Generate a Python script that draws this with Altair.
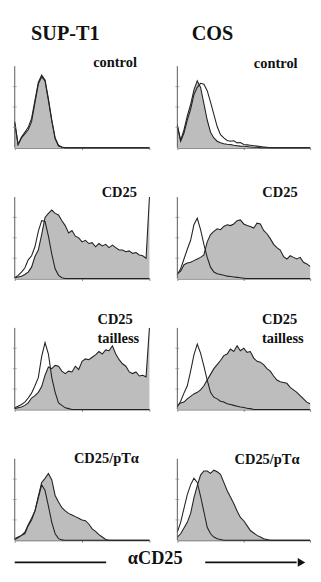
import altair as alt
import pandas as pd

# channel grid (percent of the log-fluorescence axis)
X = [0, 2.5, 5, 7.5, 10, 12.5, 15, 17.5, 20, 22.5, 25, 27.5, 30, 32.5, 35, 37.5, 40,
     42.5, 45, 47.5, 50, 52.5, 55, 57.5, 60, 62.5, 65, 67.5, 70, 72.5, 75, 77.5, 80,
     82.5, 85, 87.5, 90, 92.5, 95, 97.5, 100]
X_TICKS = [0, 25, 50, 75, 100]
Y_TICKS = [25, 50, 75]

COLUMN_TITLES = ["SUP-T1", "COS"]
PANEL_LABELS = [["control"], ["CD25"], ["CD25", "tailless"], ["CD25/pTα"]]
AXIS_LABEL = "αCD25"

# cell counts, % of the y-axis height; "filled" = stained, "open" = background
SUPT1_CONTROL_FILLED = [32, 4, 12, 17, 22, 32, 55, 78, 87, 82, 58, 33, 11, 2, 0.5, 0, 0, 0, 0, 0, 0,
                        0, 0, 0, 0, 0, 0, 0, 0, 0, 0, 0, 0, 0, 0, 0, 0, 0, 0, 0, 0]
SUPT1_CONTROL_OPEN = [30, 4, 13, 19, 25, 36, 58, 80, 89, 83, 60, 34, 12, 3, 1, 0, 0, 0, 0, 0, 0,
                      0, 0, 0, 0, 0, 0, 0, 0, 0, 0, 0, 0, 0, 0, 0, 0, 0, 0, 0, 0]
COS_CONTROL_FILLED = [28, 9, 22, 39, 53, 71, 82, 74, 54, 34, 19, 12, 8, 6, 5, 4.3, 4, 3, 2.5, 2, 1.8,
                      1.5, 1, 0.5, 0.5, 0, 0, 0, 0, 0, 0, 0, 0, 0, 0, 0, 0, 0, 0, 0, 0]
COS_CONTROL_OPEN = [26, 8, 18, 34, 47, 65, 74, 79, 78, 70, 56, 41, 26, 16, 12, 9, 8, 8.5, 6, 6.5, 4,
                    3.5, 3, 2.5, 2, 1.5, 1, 0.5, 0, 0, 0, 0, 0, 0, 0, 0, 0, 0, 0, 0, 0]

SUPT1_CD25_FILLED = [1, 2, 3, 5, 8, 14, 27, 35, 54, 75, 80, 84, 80, 78, 71, 65, 56, 59, 52, 50, 45,
                     47, 43, 44, 39, 43, 40, 42, 38, 41, 38, 35, 35, 33, 34, 31, 32, 29, 28, 25, 100]
SUPT1_CD25_OPEN = [1, 4, 8, 13, 23, 28, 39, 58, 71, 70, 52, 30, 12, 4, 1, 0, 0, 0, 0, 0, 0,
                   0, 0, 0, 0, 0, 0, 0, 0, 0, 0, 0, 0, 0, 0, 0, 0, 0, 0, 0, 0]
COS_CD25_FILLED = [6, 9, 17, 19, 20, 22, 24, 26, 29, 45, 54, 58, 61, 60, 64, 66, 65, 67, 71, 72, 67,
                   65, 64, 62, 68, 67, 59, 55, 49, 42, 38, 35, 27, 24, 28, 26, 24, 26, 20, 18, 15]
COS_CD25_OPEN = [5, 12, 24, 36, 47, 66, 74, 60, 42, 26, 14, 8, 6, 5, 4, 3, 2.5, 2, 1.5, 1, 0.5,
                 0, 0, 0, 0, 0, 0, 0, 0, 0, 0, 0, 0, 0, 0, 0, 0, 0, 0, 0, 0]

SUPT1_TAILLESS_FILLED = [1, 2, 3, 5, 8, 14, 17, 21, 28, 42, 52, 50, 54, 53, 47, 44, 47, 46, 53, 49, 59,
                         62, 61, 64, 67, 71, 68, 73, 72, 78, 68, 61, 56, 53, 46, 44, 46, 41, 42, 40, 100]
SUPT1_TAILLESS_OPEN = [2, 4, 6, 9, 14, 20, 29, 39, 65, 82, 68, 39, 21, 8, 5, 2, 1, 0, 0, 0, 0,
                       0, 0, 0, 0, 0, 0, 0, 0, 0, 0, 0, 0, 0, 0, 0, 0, 0, 0, 0, 0]
COS_TAILLESS_FILLED = [5, 8, 9, 13, 16, 19, 21, 24, 29, 36, 43, 50, 55, 60, 66, 68, 74, 71, 78, 72, 75,
                       70, 71, 63, 59, 58, 55, 50, 47, 41, 36, 34, 33, 32, 27, 24, 21, 17, 13, 9, 7]
COS_TAILLESS_OPEN = [3, 10, 20, 29, 47, 67, 80, 69, 53, 36, 21, 15, 13, 10, 9, 7, 6, 5, 4, 3, 2.5,
                     1.5, 1, 0, 0, 0, 0, 0, 0, 0, 0, 0, 0, 0, 0, 0, 0, 0, 0, 0, 0]

SUPT1_PTA_FILLED = [1, 3, 6, 8, 18, 25, 36, 54, 71, 76, 82, 74, 55, 47, 40, 36, 33, 31, 29, 27, 25,
                    24, 20, 14, 11, 7, 4, 1, 0, 0, 0, 0, 0, 0, 0, 0, 0, 0, 0, 0, 0]
SUPT1_PTA_OPEN = [2, 4, 6, 10, 19, 27, 36, 52, 68, 61, 42, 22, 8, 2, 0.5, 0, 0, 0, 0, 0, 0,
                  0, 0, 0, 0, 0, 0, 0, 0, 0, 0, 0, 0, 0, 0, 0, 0, 0, 0, 0, 0]
COS_PTA_FILLED = [4, 8, 15, 22, 33, 52, 67, 80, 85, 85, 82, 86, 84, 81, 71, 61, 53, 45, 36, 28, 24,
                  18, 12, 9, 6, 4, 2, 1, 0, 0, 0, 0, 0, 0, 0, 0, 0, 0, 0, 0, 0]
COS_PTA_OPEN = [10, 22, 39, 56, 68, 76, 71, 54, 35, 16, 8, 4, 2, 1, 0, 0, 0, 0, 0, 0, 0,
                0, 0, 0, 0, 0, 0, 0, 0, 0, 0, 0, 0, 0, 0, 0, 0, 0, 0, 0, 0]

FONT = "Liberation Serif"
FILL = "#bdbdbd"
INK = "#222222"
AXIS = "#555555"
PANEL_H = 100
LEFT_W = 140
RIGHT_W = 138

xs = alt.Scale(domain=[0, 100], nice=False, zero=False)
ys = alt.Scale(domain=[0, 118], nice=False)

label_style = dict(baseline="alphabetic", font=FONT, fontWeight="bold",
                   fontSize=15, lineHeight=20, color="#111111")
title_style = dict(align="left", baseline="alphabetic", font=FONT,
                   fontWeight="bold", fontSize=21, color="#111111")


def panel(filled, open_, label, lx, ly, align, w, extras=()):
    df = pd.DataFrame({"x": X, "filled": filled, "open": open_})
    base = alt.Chart(df)
    xenc = alt.X("x:Q", scale=xs,
                 axis=alt.Axis(title=None, labels=False, grid=False,
                               values=X_TICKS, tickSize=2,
                               domainColor=AXIS, tickColor="#888888", domainWidth=1))
    area = base.mark_area(color=FILL).encode(
        x=xenc, y=alt.Y("filled:Q", scale=ys, axis=None))
    line_f = base.mark_line(color=INK, strokeWidth=1.1).encode(
        x=alt.X("x:Q", scale=xs), y=alt.Y("filled:Q", scale=ys))
    line_o = base.mark_line(color=INK, strokeWidth=1.1).encode(
        x=alt.X("x:Q", scale=xs), y=alt.Y("open:Q", scale=ys))
    yaxis = alt.Chart(pd.DataFrame({"lo": [0], "hi": [100]})).mark_rule(
        color=AXIS, strokeWidth=1).encode(
        x=alt.datum(0, scale=xs), y=alt.Y("lo:Q", scale=ys), y2="hi:Q")
    yticks = alt.Chart(pd.DataFrame({"t": Y_TICKS})).mark_tick(
        orient="horizontal", size=4, thickness=1, color="#888888").encode(
        x=alt.datum(0, scale=xs), y=alt.Y("t:Q", scale=ys))
    text = alt.Chart().mark_text(text=label, align=align, **label_style).encode(
        x=alt.value(lx), y=alt.value(ly))
    return alt.layer(area, line_f, line_o, yaxis, yticks, text, *extras).properties(
        width=w, height=PANEL_H)


def title(t, x):
    return alt.Chart().mark_text(text=t, **title_style).encode(
        x=alt.value(x), y=alt.value(-12))


def rule(x1, x2, y):
    return alt.Chart().mark_rule(color="#111111", strokeWidth=1.8).encode(
        x=alt.value(x1), x2=alt.value(x2), y=alt.value(y))


axis_text = alt.Chart().mark_text(
    text=AXIS_LABEL, align="center", baseline="alphabetic", font=FONT,
    fontWeight="bold", fontSize=19, color="#111111").encode(
    x=alt.value(146), y=alt.value(125))
arrow_head = alt.Chart().mark_point(
    shape="triangle-right", filled=True, size=80, color="#111111", opacity=1).encode(
    x=alt.value(129), y=alt.value(123))

panels = [
    panel(SUPT1_CONTROL_FILLED, SUPT1_CONTROL_OPEN, PANEL_LABELS[0], 127, 16, "right", LEFT_W,
          [title(COLUMN_TITLES[0], 17)]),
    panel(COS_CONTROL_FILLED, COS_CONTROL_OPEN, PANEL_LABELS[0], 125, 17, "right", RIGHT_W,
          [title(COLUMN_TITLES[1], 15)]),
    panel(SUPT1_CD25_FILLED, SUPT1_CD25_OPEN, PANEL_LABELS[1], 127, 15, "right", LEFT_W),
    panel(COS_CD25_FILLED, COS_CD25_OPEN, PANEL_LABELS[1], 125, 15, "right", RIGHT_W),
    panel(SUPT1_TAILLESS_FILLED, SUPT1_TAILLESS_OPEN, PANEL_LABELS[2], 86, 11, "left", LEFT_W),
    panel(COS_TAILLESS_FILLED, COS_TAILLESS_OPEN, PANEL_LABELS[2], 88, 11, "left", RIGHT_W),
    panel(SUPT1_PTA_FILLED, SUPT1_PTA_OPEN, PANEL_LABELS[3], 129, 20, "right", LEFT_W,
          [rule(0, 95, 123), axis_text]),
    panel(COS_PTA_FILLED, COS_PTA_OPEN, PANEL_LABELS[3], 127, 21, "right", RIGHT_W,
          [rule(29, 124, 123), arrow_head]),
]

chart = alt.concat(*panels, columns=2, spacing={"row": 36, "column": 29},
                   bounds="flush").properties(
    padding={"left": 4, "top": 5, "right": 0, "bottom": 0}
).configure_view(stroke=None)

chart.save("out.html", embed_options={"renderer": "svg", "actions": False})
